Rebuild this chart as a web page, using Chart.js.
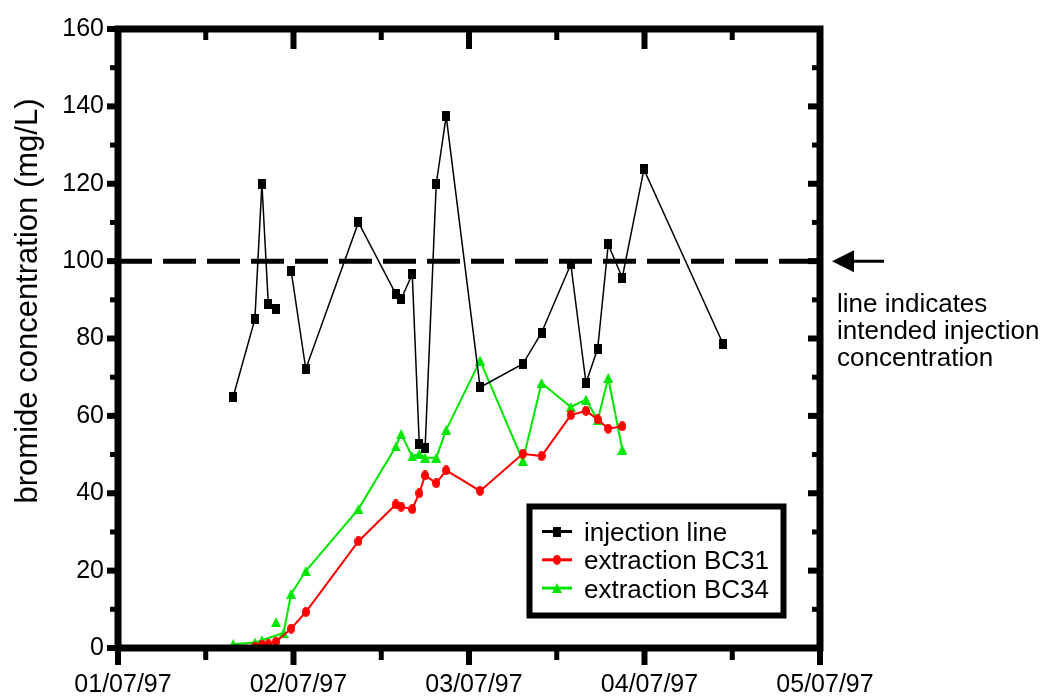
<!DOCTYPE html>
<html lang="en">
<head>
<meta charset="UTF-8" />
<title>Bromide concentration</title>
<style>
  html, body { margin: 0; padding: 0; background: #fff; }
  #wrap { position: relative; width: 1046px; height: 698px; }
</style>
</head>
<body>
<div id="wrap"><canvas id="bromideChart"></canvas></div>
<script src="https://cdn.jsdelivr.net/npm/chart.js"></script>
<script>
// x is days after 01/07/97, the axis is split into four 30-day steps
const dateTicks = ['01/07/97', '02/07/97', '03/07/97', '04/07/97', '05/07/97'];

// null entries break the line
const injectionDays   = [19.7, 23.4, 24.6, 25.7, null, 27.0, null, 29.6, 32.1, 41.1, 47.5, 48.4, 50.3, 51.5, 52.5, 54.4, 56.1, 61.9, 69.2, 72.4, 77.4, 80.0, 82.0, 83.8, 86.2, 89.9, 103.4];
const injectionValues = [65, 85, 120, 88.8, null, 87.5, null, 97.5, 72.1, 110, 91.5, 90.2, 96.6, 52.8, 51.8, 120, 137.5, 67.4, 73.4, 81.5, 99.2, 68.5, 77.4, 104.3, 95.7, 123.7, 78.7];

const bc31Days   = [23.4, 24.6, 25.7, 27.0, 29.6, 32.1, 41.1, 47.5, 48.4, 50.3, 51.5, 52.5, 54.4, 56.1, 61.9, 69.2, 72.4, 77.4, 80.0, 82.0, 83.8, 86.2];
const bc31Values = [0.3, 0.8, 1.0, 1.6, 5.0, 9.3, 27.6, 37.1, 36.5, 35.9, 40.0, 44.6, 42.6, 45.9, 40.6, 50.2, 49.6, 60.2, 61.3, 59.1, 56.7, 57.3];

const bc34Days   = [19.7, 23.4, 24.6, 28.3, 29.6, 32.1, 41.1, 47.5, 48.4, 50.3, 51.5, 52.5, 54.4, 56.1, 61.9, 69.2, 72.4, 77.4, 80.0, 82.0, 83.8, 86.2, null, 27.0];
const bc34Values = [1.0, 1.4, 2.0, 3.9, 14.0, 19.9, 35.9, 52.1, 55.3, 49.5, 50.2, 49.2, 49.2, 56.4, 74.3, 48.4, 68.5, 62.3, 64.2, 58.9, 69.8, 51.3, null, 6.7];

const targetDays = [0, 120];
const targetLevel = 100;

const noteLines = ['line indicates', 'intended injection', 'concentration'];
const yTitle = 'bromide concentration (mg/L)';

const FONT = "'Liberation Sans', Arial, Helvetica, sans-serif";
Chart.defaults.font.family = FONT;
Chart.defaults.color = '#000';

function toPoints(days, values) {
  return days.map((d, i) => ({ x: d, y: values[i] }));
}

// small canvases used as point markers (slightly taller than wide)
function marker(w, h, paint) {
  const c = document.createElement('canvas');
  c.width = w; c.height = h;
  paint(c.getContext('2d'), w, h);
  return c;
}
const squareMark = marker(8, 10, (g, w, h) => { g.fillStyle = '#000'; g.fillRect(0, 0, w, h); });
const dotMark = marker(8, 10, (g, w, h) => {
  g.fillStyle = '#ff0000';
  g.beginPath(); g.ellipse(w / 2, h / 2, w / 2, h / 2, 0, 0, Math.PI * 2); g.fill();
});
const triMark = marker(10, 10, (g, w, h) => {
  g.fillStyle = '#00e600';
  g.beginPath(); g.moveTo(w / 2, 0); g.lineTo(w, h); g.lineTo(0, h); g.closePath(); g.fill();
});

// thick box around the plot, ticks on all four sides, titles, legend and note
const framePlugin = {
  id: 'frame',
  afterDatasetsDraw(chart) {
    const { ctx, chartArea: a, scales: { x, y } } = chart;
    ctx.save();
    ctx.fillStyle = '#000';
    ctx.strokeStyle = '#000';

    x.ticks.forEach(t => {
      const px = x.getPixelForValue(t.value);
      const major = t.value % 30 === 0;
      const w = major ? 6 : 5;
      ctx.fillRect(px - w / 2, a.bottom, w, major ? 17 : 12);
      ctx.fillRect(px - w / 2, a.top, w, major ? 20 : 11);
    });
    y.ticks.forEach(t => {
      const py = y.getPixelForValue(t.value);
      const major = t.value % 20 === 0;
      const h = major ? 6 : 5;
      ctx.fillRect(a.left - (major ? 11 : 8), py - h / 2, major ? 11 : 8, h);
      ctx.fillRect(a.right - (major ? 12 : 8), py - h / 2, major ? 12 : 8, h);
    });

    ctx.lineWidth = 7;
    ctx.strokeRect(a.left, a.top, a.right - a.left, a.bottom - a.top);

    // y axis title
    ctx.save();
    ctx.translate(37, 301);
    ctx.rotate(-Math.PI / 2);
    ctx.font = '31px ' + FONT;
    ctx.textAlign = 'center';
    ctx.textBaseline = 'alphabetic';
    ctx.fillText(yTitle, 0, 0);
    ctx.restore();

    // arrow pointing at the intended level
    const ty = y.getPixelForValue(targetLevel);
    ctx.lineWidth = 3;
    ctx.beginPath();
    ctx.moveTo(850, ty); ctx.lineTo(884, ty);
    ctx.stroke();
    ctx.beginPath();
    ctx.moveTo(832, ty); ctx.lineTo(854, ty - 11); ctx.lineTo(854, ty + 11); ctx.closePath();
    ctx.fill();

    ctx.font = '26px ' + FONT;
    ctx.textAlign = 'left';
    ctx.textBaseline = 'alphabetic';
    noteLines.forEach((s, i) => ctx.fillText(s, 837, ty + 51 + i * 27));

    // legend
    const bx = 529.5, by = 506.5, bw = 254, bh = 109;
    ctx.fillStyle = '#fff';
    ctx.fillRect(bx, by, bw, bh);
    ctx.lineWidth = 6;
    ctx.strokeRect(bx, by, bw, bh);
    ctx.fillStyle = '#000';
    chart.data.datasets.filter(ds => ds.inLegend).forEach((ds, i) => {
      const base = 541 + i * 28.3;
      const ly = base - 9.5;
      ctx.strokeStyle = ds.borderColor;
      ctx.lineWidth = 3;
      ctx.beginPath(); ctx.moveTo(542, ly); ctx.lineTo(572, ly); ctx.stroke();
      const m = ds.pointStyle;
      ctx.drawImage(m, 557 - m.width / 2, ly - m.height / 2);
      ctx.fillText(ds.label, 584, base);
    });
    ctx.restore();
  }
};

new Chart(document.getElementById('bromideChart'), {
  type: 'line',
  data: {
    datasets: [
      {
        label: 'injection line',
        inLegend: true,
        data: toPoints(injectionDays, injectionValues),
        borderColor: '#000',
        borderWidth: 1.5,
        pointStyle: squareMark,
        pointRadius: 5,
        order: 0
      },
      {
        label: 'extraction BC31',
        inLegend: true,
        data: toPoints(bc31Days, bc31Values),
        borderColor: '#ff0000',
        borderWidth: 2,
        pointStyle: dotMark,
        pointRadius: 5,
        order: 1
      },
      {
        label: 'extraction BC34',
        inLegend: true,
        data: toPoints(bc34Days, bc34Values),
        borderColor: '#00e600',
        borderWidth: 2,
        pointStyle: triMark,
        pointRadius: 5,
        order: 2
      },
      {
        label: 'intended injection concentration',
        inLegend: false,
        data: toPoints(targetDays, targetDays.map(() => targetLevel)),
        borderColor: '#000',
        borderWidth: 5,
        borderDash: [33, 11],
        borderDashOffset: -1,
        pointRadius: 0,
        order: 3
      }
    ]
  },
  options: {
    responsive: true,
    maintainAspectRatio: false,
    animation: false,
    spanGaps: false,
    layout: { padding: { top: 22, right: 226, bottom: 0, left: 0 } },
    plugins: {
      legend: { display: false },
      tooltip: { enabled: false }
    },
    scales: {
      x: {
        type: 'linear',
        min: 0,
        max: 120,
        afterFit: s => { s.height = 50; },
        grid: { display: false, drawTicks: false },
        border: { display: false },
        ticks: {
          stepSize: 15,
          autoSkip: false,
          maxRotation: 0,
          padding: 22,
          labelOffset: 5,
          font: { size: 25 },
          callback: v => (v % 30 === 0 ? dateTicks[v / 30] : '')
        }
      },
      y: {
        min: 0,
        max: 160,
        afterFit: s => { s.width = 118; },
        grid: { display: false, drawTicks: false },
        border: { display: false },
        ticks: {
          stepSize: 10,
          padding: 14,
          font: { size: 25 },
          callback: v => (v % 20 === 0 ? v : '')
        }
      }
    }
  },
  plugins: [framePlugin]
});
</script>
</body>
</html>
